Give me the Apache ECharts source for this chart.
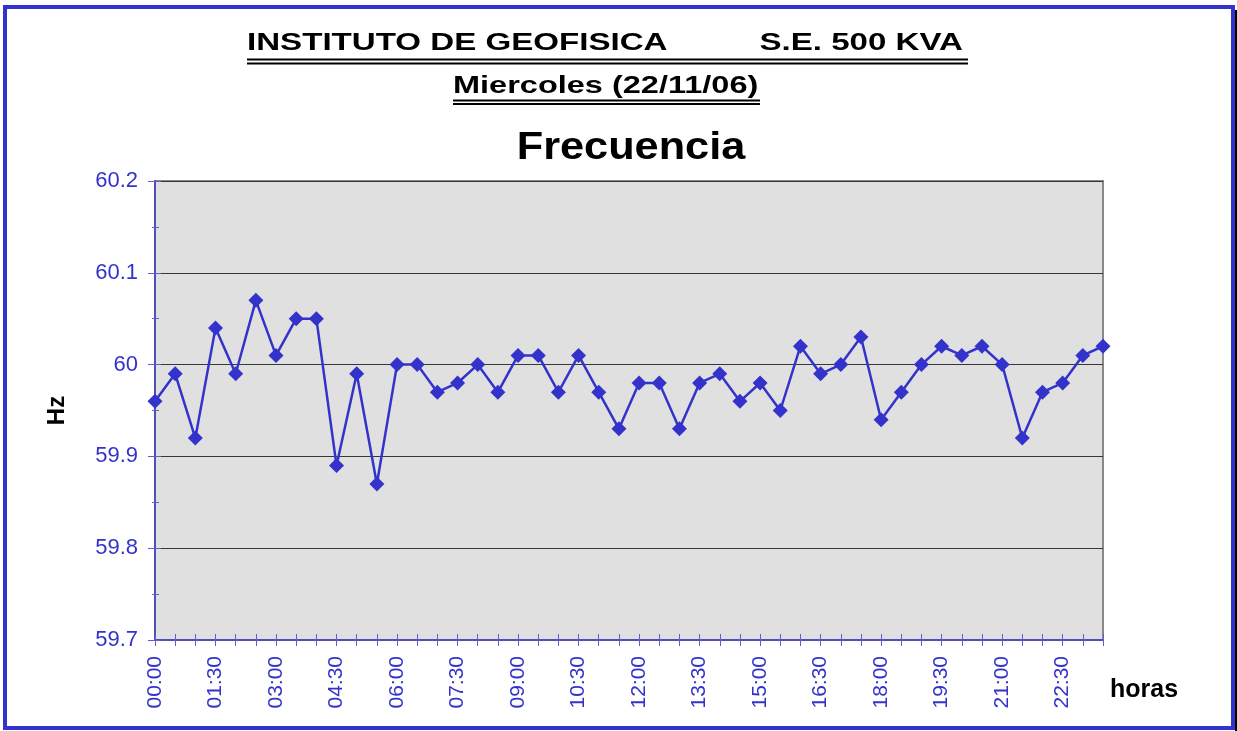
<!DOCTYPE html>
<html>
<head>
<meta charset="utf-8">
<script src="https://cdn.jsdelivr.net/npm/echarts@6/dist/echarts.min.js"></script>
<style>
  html, body { margin: 0; padding: 0; background: #fff; }
  #chart { width: 1237px; height: 731px; }
</style>
</head>
<body>
<div id="chart"></div>
<script>
// horas (cada 30 min)
var horas = [
  '00:00', '00:30', '01:00', '01:30', '02:00', '02:30', '03:00', '03:30',
  '04:00', '04:30', '05:00', '05:30', '06:00', '06:30', '07:00', '07:30',
  '08:00', '08:30', '09:00', '09:30', '10:00', '10:30', '11:00', '11:30',
  '12:00', '12:30', '13:00', '13:30', '14:00', '14:30', '15:00', '15:30',
  '16:00', '16:30', '17:00', '17:30', '18:00', '18:30', '19:00', '19:30',
  '20:00', '20:30', '21:00', '21:30', '22:00', '22:30', '23:00', '23:30'
];
// frecuencia en Hz
var frecuencia = [
  59.96, 59.99, 59.92, 60.04, 59.99, 60.07, 60.01, 60.05,
  60.05, 59.89, 59.99, 59.87, 60.00, 60.00, 59.97, 59.98,
  60.00, 59.97, 60.01, 60.01, 59.97, 60.01, 59.97, 59.93,
  59.98, 59.98, 59.93, 59.98, 59.99, 59.96, 59.98, 59.95,
  60.02, 59.99, 60.00, 60.03, 59.94, 59.97, 60.00, 60.02,
  60.01, 60.02, 60.00, 59.92, 59.97, 59.98, 60.01, 60.02
];
var yMin = 59.7, yMax = 60.2, yStep = 0.1;

var AZUL = '#3333cc';
var FONT = '"Liberation Sans", Arial, sans-serif';

var chart = echarts.init(document.getElementById('chart'));

chart.setOption({
  backgroundColor: '#fff',
  animation: false,
  textStyle: { fontFamily: FONT },
  grid: {
    left: 155, top: 181, right: 134, bottom: 91,
    show: true,
    backgroundColor: '#e0e0e0',
    borderColor: '#888',
    borderWidth: 2
  },
  xAxis: [
    {
      type: 'category',
      data: horas,
      boundaryGap: false,
      position: 'bottom',
      name: 'horas',
      nameLocation: 'end',
      nameGap: 7,
      nameTextStyle: {
        color: '#000', fontSize: 25, fontWeight: 'bold', fontFamily: FONT,
        align: 'left', verticalAlign: 'top', padding: [38, 0, 0, 0]
      },
      axisLine: { lineStyle: { color: '#5050b8', width: 2 } },
      axisTick: { interval: 0, length: 6, lineStyle: { color: '#6060c8' } },
      axisLabel: {
        interval: 2, rotate: 90, margin: 16,
        color: AZUL, fontSize: 21, fontFamily: FONT
      },
      splitLine: { show: false }
    },
    {
      // ticks hacia adentro (cruzados)
      type: 'category',
      data: horas,
      boundaryGap: false,
      position: 'bottom',
      axisLine: { show: false },
      axisTick: { interval: 0, inside: true, length: 6, lineStyle: { color: '#6060c8' } },
      axisLabel: { show: false },
      splitLine: { show: false }
    }
  ],
  yAxis: [
    {
      type: 'value',
      min: yMin, max: yMax, interval: yStep,
      name: 'Hz',
      nameLocation: 'middle',
      nameGap: 86,
      nameTextStyle: { color: '#000', fontSize: 24, fontWeight: 'bold', fontFamily: FONT },
      axisLine: { show: true, lineStyle: { color: '#5050b8', width: 2 } },
      axisTick: { show: true, length: 7, lineStyle: { color: '#6060c8' } },
      minorTick: { show: true, splitNumber: 2, length: 3, lineStyle: { color: '#6060c8' } },
      axisLabel: { color: AZUL, fontSize: 22, margin: 17, fontFamily: FONT },
      splitLine: { lineStyle: { color: '#383838', width: 1 } }
    },
    {
      type: 'value',
      min: yMin, max: yMax, interval: yStep,
      position: 'left',
      axisLine: { show: false },
      axisTick: { show: true, inside: true, length: 6, lineStyle: { color: '#6060c8' } },
      minorTick: { show: true, splitNumber: 2, length: 4, lineStyle: { color: '#6060c8' } },
      axisLabel: { show: false },
      splitLine: { show: false }
    }
  ],
  series: [
    {
      name: 'Frecuencia',
      type: 'line',
      data: frecuencia,
      xAxisIndex: 0,
      yAxisIndex: 0,
      symbol: 'diamond',
      symbolSize: 15,
      showAllSymbol: true,
      lineStyle: { color: AZUL, width: 2.5 },
      itemStyle: { color: AZUL }
    }
  ],
  graphic: [
    // marco
    {
      type: 'line', z: 90,
      shape: { x1: 1236, y1: 10, x2: 1236, y2: 731 },
      style: { stroke: '#000', lineWidth: 2 }
    },
    {
      type: 'rect', z: 100,
      shape: { x: 5, y: 7, width: 1228, height: 721 },
      style: { fill: 'none', stroke: AZUL, lineWidth: 4 }
    },
    // titulos
    {
      type: 'text', x: 247, y: 43, scaleX: 1.379,
      style: {
        text: 'INSTITUTO DE GEOFISICA          S.E. 500 KVA ',
        fontFamily: FONT, fontSize: 24, fontWeight: 'bold', fill: '#000',
        align: 'left', verticalAlign: 'middle'
      }
    },
    { type: 'line', shape: { x1: 247, y1: 59.5, x2: 968, y2: 59.5 }, style: { stroke: '#000', lineWidth: 2 } },
    { type: 'line', shape: { x1: 247, y1: 63.5, x2: 968, y2: 63.5 }, style: { stroke: '#000', lineWidth: 2 } },
    {
      type: 'text', x: 453, y: 86, scaleX: 1.354,
      style: {
        text: 'Miercoles (22/11/06)',
        fontFamily: FONT, fontSize: 24, fontWeight: 'bold', fill: '#000',
        align: 'left', verticalAlign: 'middle'
      }
    },
    { type: 'line', shape: { x1: 453, y1: 100.5, x2: 760, y2: 100.5 }, style: { stroke: '#000', lineWidth: 2 } },
    { type: 'line', shape: { x1: 453, y1: 104, x2: 760, y2: 104 }, style: { stroke: '#000', lineWidth: 2 } },
    {
      type: 'text', x: 631, y: 148, scaleX: 1.11,
      style: {
        text: 'Frecuencia',
        fontFamily: FONT, fontSize: 39, fontWeight: 'bold', fill: '#000',
        align: 'center', verticalAlign: 'middle'
      }
    }
  ]
});
</script>
</body>
</html>
